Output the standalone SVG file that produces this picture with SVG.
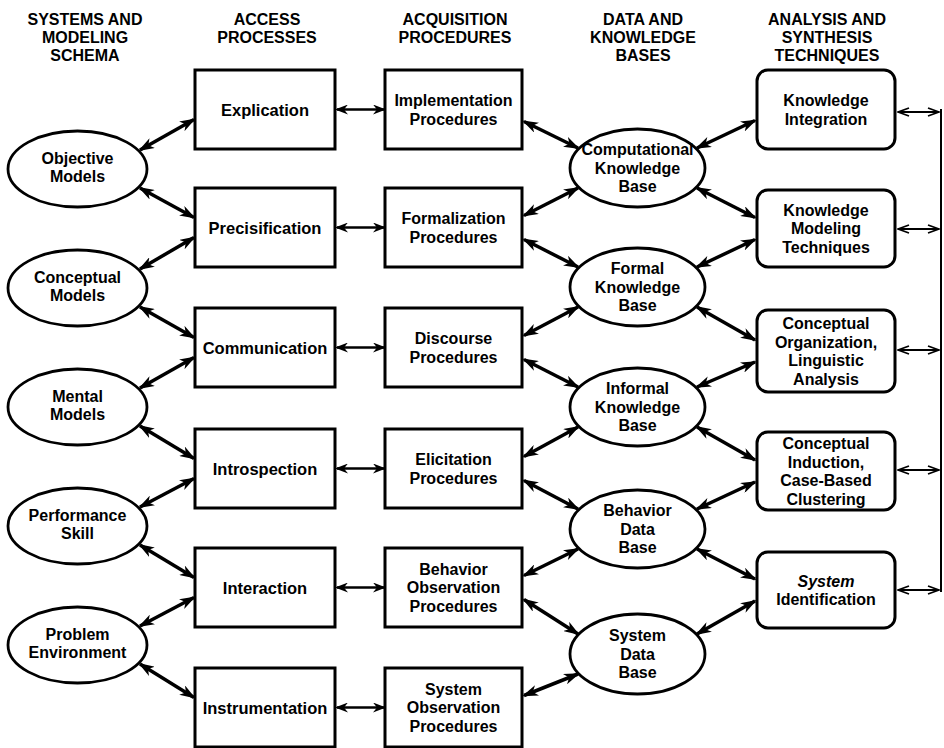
<svg xmlns="http://www.w3.org/2000/svg" width="944" height="748" viewBox="0 0 944 748">
<defs>
<marker id="ah" viewBox="0 0 16 11" refX="14" refY="5.5" markerWidth="16" markerHeight="11" markerUnits="userSpaceOnUse" orient="auto-start-reverse"><path d="M0,0 L16,5.5 L0,11 L4.5,5.5 Z" fill="#000"/></marker>
<marker id="ahm" viewBox="0 0 13 10" refX="11" refY="5" markerWidth="13" markerHeight="10" markerUnits="userSpaceOnUse" orient="auto-start-reverse"><path d="M0,0 L13,5 L0,10 L4,5 Z" fill="#000"/></marker>
<marker id="aho" viewBox="0 0 13 10" refX="12" refY="5" markerWidth="13" markerHeight="10" markerUnits="userSpaceOnUse" orient="auto-start-reverse"><path d="M1,1 L12,5 L1,9" fill="none" stroke="#000" stroke-width="1.8"/></marker>
</defs>
<style>
text{font-family:"Liberation Sans",Arial,Helvetica,sans-serif;font-weight:bold;fill:#000;text-anchor:middle}
.h{font-size:16px}
.t{font-size:16px}
.s{font-size:16.5px}
.box{fill:#fff;stroke:#000;stroke-width:3}
.ell{fill:#fff;stroke:#000;stroke-width:2.8}
.rr{fill:#fff;stroke:#000;stroke-width:3}
.d{stroke:#000;stroke-width:3.5;fill:none;marker-start:url(#ah);marker-end:url(#ah)}
.hz{stroke:#000;stroke-width:2.5;fill:none;marker-start:url(#ahm);marker-end:url(#ahm)}
.th{stroke:#000;stroke-width:1.8;fill:none;marker-start:url(#aho);marker-end:url(#aho)}
.br{stroke:#000;stroke-width:2;fill:none}
</style>

<g id="headers">
<text class="h" x="85" y="24.5">SYSTEMS AND</text>
<text class="h" x="85" y="42.5">MODELING</text>
<text class="h" x="85" y="60.5">SCHEMA</text>
<text class="h" x="267" y="24.5">ACCESS</text>
<text class="h" x="267" y="42.5">PROCESSES</text>
<text class="h" x="455" y="24.5">ACQUISITION</text>
<text class="h" x="455" y="42.5">PROCEDURES</text>
<text class="h" x="643" y="24.5">DATA AND</text>
<text class="h" x="643" y="42.5">KNOWLEDGE</text>
<text class="h" x="643" y="60.5">BASES</text>
<text class="h" x="827" y="24.5">ANALYSIS AND</text>
<text class="h" x="827" y="42.5">SYNTHESIS</text>
<text class="h" x="827" y="60.5">TECHNIQUES</text>
</g>

<g id="connectors">
<line class="d" x1="140" y1="150" x2="194" y2="119.5"/>
<line class="d" x1="140" y1="188" x2="194" y2="217.5"/>
<line class="d" x1="140" y1="269" x2="194" y2="237.5"/>
<line class="d" x1="140" y1="307" x2="194" y2="337.5"/>
<line class="d" x1="140" y1="388" x2="194" y2="357.5"/>
<line class="d" x1="140" y1="426" x2="194" y2="458.5"/>
<line class="d" x1="140" y1="507" x2="194" y2="478.5"/>
<line class="d" x1="140" y1="545" x2="194" y2="577.5"/>
<line class="d" x1="140" y1="626" x2="194" y2="597.5"/>
<line class="d" x1="140" y1="664" x2="194" y2="697.5"/>

<line class="hz" x1="337" y1="109.5" x2="384" y2="109.5"/>
<line class="hz" x1="337" y1="227.5" x2="384" y2="227.5"/>
<line class="hz" x1="337" y1="347.5" x2="384" y2="347.5"/>
<line class="hz" x1="337" y1="468.5" x2="384" y2="468.5"/>
<line class="hz" x1="337" y1="587.5" x2="384" y2="587.5"/>
<line class="hz" x1="337" y1="707.5" x2="384" y2="707.5"/>

<line class="d" x1="524" y1="121.5" x2="578" y2="148"/>
<line class="d" x1="524" y1="215.5" x2="578" y2="188"/>
<line class="d" x1="524" y1="239.5" x2="578" y2="267"/>
<line class="d" x1="524" y1="335.5" x2="578" y2="307"/>
<line class="d" x1="524" y1="359.5" x2="578" y2="387"/>
<line class="d" x1="524" y1="456.5" x2="578" y2="427"/>
<line class="d" x1="524" y1="480.5" x2="578" y2="509"/>
<line class="d" x1="524" y1="575.5" x2="578" y2="549"/>
<line class="d" x1="524" y1="599.5" x2="578" y2="634"/>
<line class="d" x1="524" y1="695.5" x2="578" y2="674"/>

<line class="d" x1="697" y1="148" x2="755" y2="120.5"/>
<line class="d" x1="697" y1="188" x2="755" y2="217.5"/>
<line class="d" x1="697" y1="267" x2="755" y2="239.5"/>
<line class="d" x1="697" y1="307" x2="755" y2="340"/>
<line class="d" x1="697" y1="387" x2="755" y2="362"/>
<line class="d" x1="697" y1="427" x2="755" y2="460"/>
<line class="d" x1="697" y1="509" x2="755" y2="482"/>
<line class="d" x1="697" y1="549" x2="755" y2="579"/>
<line class="d" x1="697" y1="634" x2="755" y2="601"/>

<line class="th" x1="898" y1="112" x2="939" y2="112"/>
<line class="th" x1="898" y1="229" x2="939" y2="229"/>
<line class="th" x1="898" y1="350" x2="939" y2="350"/>
<line class="th" x1="898" y1="470" x2="939" y2="470"/>
<line class="th" x1="898" y1="590" x2="939" y2="590"/>
<line class="br" x1="941" y1="109" x2="941" y2="592"/>
</g>

<g id="objective-models"><ellipse class="ell" cx="77.5" cy="169" rx="69.5" ry="38"/><text class="t" x="77.5" y="163.5">Objective</text><text class="t" x="77.5" y="182">Models</text></g>
<g id="conceptual-models"><ellipse class="ell" cx="77.5" cy="288" rx="69.5" ry="38"/><text class="t" x="77.5" y="282.5">Conceptual</text><text class="t" x="77.5" y="301">Models</text></g>
<g id="mental-models"><ellipse class="ell" cx="77.5" cy="407" rx="69.5" ry="38"/><text class="t" x="77.5" y="401.5">Mental</text><text class="t" x="77.5" y="420">Models</text></g>
<g id="performance-skill"><ellipse class="ell" cx="77.5" cy="526" rx="69.5" ry="38"/><text class="t" x="77.5" y="520.5">Performance</text><text class="t" x="77.5" y="539">Skill</text></g>
<g id="problem-environment"><ellipse class="ell" cx="77.5" cy="645" rx="69.5" ry="38"/><text class="t" x="77.5" y="639.5">Problem</text><text class="t" x="77.5" y="658">Environment</text></g>

<g id="explication"><rect class="box" x="195" y="70" width="140" height="79"/><text class="s" x="265" y="115.5">Explication</text></g>
<g id="precisification"><rect class="box" x="195" y="188" width="140" height="79"/><text class="s" x="265" y="233.5">Precisification</text></g>
<g id="communication"><rect class="box" x="195" y="308" width="140" height="79"/><text class="s" x="265" y="353.5">Communication</text></g>
<g id="introspection"><rect class="box" x="195" y="429" width="140" height="79"/><text class="s" x="265" y="474.5">Introspection</text></g>
<g id="interaction"><rect class="box" x="195" y="548" width="140" height="79"/><text class="s" x="265" y="593.5">Interaction</text></g>
<g id="instrumentation"><rect class="box" x="195" y="668" width="140" height="79"/><text class="s" x="265" y="713.5">Instrumentation</text></g>

<g id="implementation-procedures"><rect class="box" x="385" y="70" width="137" height="79"/><text class="t" x="453.5" y="106">Implementation</text><text class="t" x="453.5" y="124.5">Procedures</text></g>
<g id="formalization-procedures"><rect class="box" x="385" y="188" width="137" height="79"/><text class="t" x="453.5" y="224">Formalization</text><text class="t" x="453.5" y="242.5">Procedures</text></g>
<g id="discourse-procedures"><rect class="box" x="385" y="308" width="137" height="79"/><text class="t" x="453.5" y="344">Discourse</text><text class="t" x="453.5" y="362.5">Procedures</text></g>
<g id="elicitation-procedures"><rect class="box" x="385" y="429" width="137" height="79"/><text class="t" x="453.5" y="465">Elicitation</text><text class="t" x="453.5" y="483.5">Procedures</text></g>
<g id="behavior-observation-procedures"><rect class="box" x="385" y="548" width="137" height="79"/><text class="t" x="453.5" y="574.75">Behavior</text><text class="t" x="453.5" y="593.25">Observation</text><text class="t" x="453.5" y="611.75">Procedures</text></g>
<g id="system-observation-procedures"><rect class="box" x="385" y="668" width="137" height="79"/><text class="t" x="453.5" y="694.75">System</text><text class="t" x="453.5" y="713.25">Observation</text><text class="t" x="453.5" y="731.75">Procedures</text></g>

<g id="computational-knowledge-base"><ellipse class="ell" cx="637.5" cy="168" rx="67.5" ry="39"/><text class="t" x="637.5" y="155.25">Computational</text><text class="t" x="637.5" y="173.75">Knowledge</text><text class="t" x="637.5" y="192.25">Base</text></g>
<g id="formal-knowledge-base"><ellipse class="ell" cx="637.5" cy="287" rx="67.5" ry="39"/><text class="t" x="637.5" y="274.25">Formal</text><text class="t" x="637.5" y="292.75">Knowledge</text><text class="t" x="637.5" y="311.25">Base</text></g>
<g id="informal-knowledge-base"><ellipse class="ell" cx="637.5" cy="407" rx="67.5" ry="39"/><text class="t" x="637.5" y="394.25">Informal</text><text class="t" x="637.5" y="412.75">Knowledge</text><text class="t" x="637.5" y="431.25">Base</text></g>
<g id="behavior-data-base"><ellipse class="ell" cx="637.5" cy="529" rx="67.5" ry="39"/><text class="t" x="637.5" y="516.25">Behavior</text><text class="t" x="637.5" y="534.75">Data</text><text class="t" x="637.5" y="553.25">Base</text></g>
<g id="system-data-base"><ellipse class="ell" cx="637.5" cy="654" rx="67.5" ry="40"/><text class="t" x="637.5" y="641.25">System</text><text class="t" x="637.5" y="659.75">Data</text><text class="t" x="637.5" y="678.25">Base</text></g>

<g id="knowledge-integration"><rect class="rr" x="757" y="70" width="138" height="79" rx="11"/><text class="t" x="826" y="106">Knowledge</text><text class="t" x="826" y="124.5">Integration</text></g>
<g id="knowledge-modeling-techniques"><rect class="rr" x="757" y="190" width="138" height="77" rx="11"/><text class="t" x="826" y="215.75">Knowledge</text><text class="t" x="826" y="234.25">Modeling</text><text class="t" x="826" y="252.75">Techniques</text></g>
<g id="conceptual-organization"><rect class="rr" x="757" y="310" width="138" height="82" rx="11"/><text class="t" x="826" y="329">Conceptual</text><text class="t" x="826" y="347.5">Organization,</text><text class="t" x="826" y="366">Linguistic</text><text class="t" x="826" y="384.5">Analysis</text></g>
<g id="conceptual-induction"><rect class="rr" x="757" y="432" width="138" height="78" rx="11"/><text class="t" x="826" y="449">Conceptual</text><text class="t" x="826" y="467.5">Induction,</text><text class="t" x="826" y="486">Case-Based</text><text class="t" x="826" y="504.5">Clustering</text></g>
<g id="system-identification"><rect class="rr" x="757" y="552" width="138" height="76" rx="11"/><text class="t" x="826" y="586.5" font-style="italic">System</text><text class="t" x="826" y="605">Identification</text></g>
</svg>
